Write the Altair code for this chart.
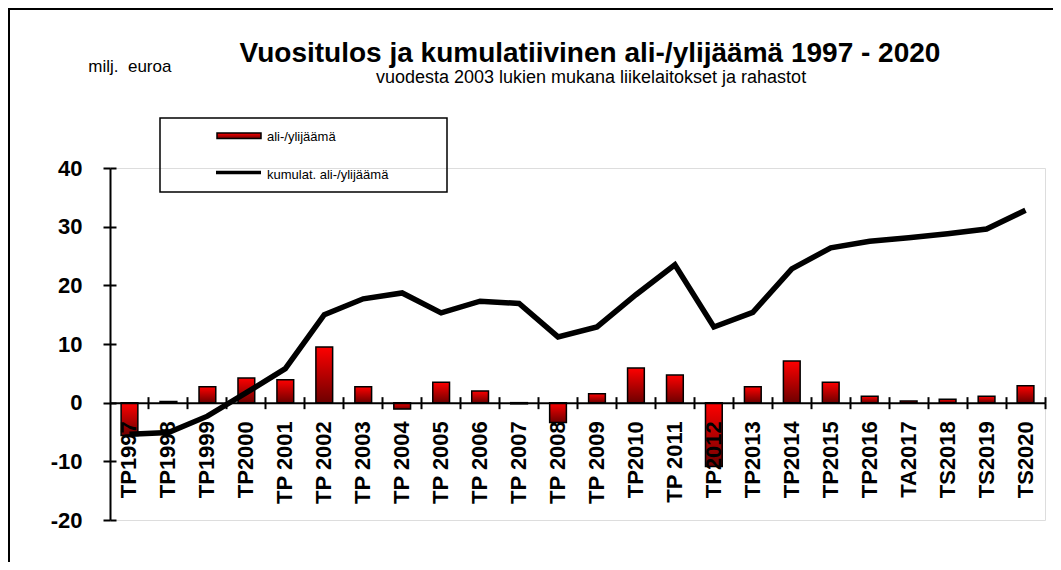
import altair as alt
import pandas as pd

labels = ["TP1997", "TP1998", "TP1999", "TP2000", "TP 2001", "TP 2002", "TP 2003",
          "TP 2004", "TP 2005", "TP 2006", "TP 2007", "TP 2008", "TP 2009", "TP2010",
          "TP 2011", "TP2012", "TP2013", "TP2014", "TP2015", "TP2016", "TA2017",
          "TS2018", "TS2019", "TS2020"]
annual = [-5.6, 0.2, 2.7, 4.2, 3.9, 9.5, 2.7, -1.1, 3.5, 2.0, -0.2, -3.4, 1.5, 5.9,
          4.7, -10.9, 2.7, 7.1, 3.5, 1.1, 0.3, 0.6, 1.1, 2.9]
cumulative = [-5.4, -5.1, -2.3, 1.7, 5.8, 15.0, 17.7, 18.7, 15.3, 17.3, 16.9, 11.2,
              12.9, 18.4, 23.5, 12.9, 15.4, 22.8, 26.4, 27.5, 28.1, 28.8, 29.6, 32.8]
y_ticks = [-20, -10, 0, 10, 20, 30, 40]

title_text = "Vuositulos ja kumulatiivinen ali-/ylijäämä 1997 - 2020"
subtitle_text = "vuodesta 2003 lukien mukana liikelaitokset ja rahastot"
unit_text = "milj.\u00a0 euroa"
legend_bar_text = "ali-/ylijäämä"
legend_line_text = "kumulat. ali-/ylijäämä"

W, H = 935, 352
FONT = "Liberation Sans"

df = pd.DataFrame({"label": labels, "annual": annual, "cumulative": cumulative})
one = pd.DataFrame({"d": [0]})

xscale = alt.Scale(domain=labels, paddingInner=0, paddingOuter=0)
yscale = alt.Scale(domain=[-20, 40], nice=False, zero=False)

gradient = alt.Gradient(
    gradient="linear",
    stops=[alt.GradientStop(color="#ff0000", offset=0),
           alt.GradientStop(color="#6e0000", offset=1)],
    x1=0, x2=0, y1=0, y2=1,
)

bars = alt.Chart(df).mark_bar(
    width=alt.RelativeBandSize(0.43), fill=gradient, stroke="black", strokeWidth=1.5
).encode(
    x=alt.X("label:N", sort=labels, scale=xscale, title=None,
            axis=alt.Axis(orient="bottom", offset=-H / 3, bandPosition=1,
                          tickSize=6, tickWidth=2, tickColor="black",
                          domainWidth=2, domainColor="black",
                          labelAngle=270, labelFont=FONT, labelFontSize=22,
                          labelFontWeight="bold", labelColor="black",
                          labelPadding=12, labelOverlap=False, zindex=1)),
    y=alt.Y("annual:Q", scale=yscale, title=None,
            axis=alt.Axis(orient="left", values=y_ticks, tickSize=7, tickWidth=2,
                          tickColor="black", domainWidth=2, domainColor="black",
                          labelExpr="'' + datum.value",
                          labelFont=FONT, labelFontSize=22, labelFontWeight="bold",
                          labelColor="black", labelPadding=21, grid=False, zindex=1)),
)

line = alt.Chart(df).mark_line(color="black", strokeWidth=5.5).encode(
    x=alt.X("label:N", sort=labels, scale=xscale, title=None,
            axis=alt.Axis(orient="top", offset=-2 * H / 3, bandPosition=1,
                          tickSize=6, tickWidth=2, tickColor="black",
                          domain=False, labels=False, zindex=1)),
    y=alt.Y("cumulative:Q", scale=yscale, title=None,
            axis=alt.Axis(orient="right", offset=-W, values=y_ticks, tickSize=6,
                          tickWidth=2, tickColor="black", domain=False,
                          labels=False, grid=False, zindex=1)),
)

legend_box = alt.Chart(one).mark_rect(fill="white", fillOpacity=0, stroke="black",
                                      strokeWidth=1.5).encode(
    x=alt.value(50), x2=alt.value(337), y=alt.value(-50), y2=alt.value(24))
legend_bar = alt.Chart(one).mark_rect(fill=gradient, stroke="black", strokeWidth=1.5).encode(
    x=alt.value(107), x2=alt.value(151), y=alt.value(-35), y2=alt.value(-29.5))
legend_line = alt.Chart(one).mark_rule(color="black", strokeWidth=3.5).encode(
    x=alt.value(106), x2=alt.value(151), y=alt.value(4.5))
legend_t1 = alt.Chart(one).mark_text(text=legend_bar_text, font=FONT, fontSize=13,
                                     align="left", baseline="middle", color="black").encode(
    x=alt.value(157), y=alt.value(-31.5))
legend_t2 = alt.Chart(one).mark_text(text=legend_line_text, font=FONT, fontSize=13,
                                     align="left", baseline="middle", color="black").encode(
    x=alt.value(157), y=alt.value(6.5))

title = alt.Chart(one).mark_text(text=title_text, font=FONT, fontSize=28, fontWeight="bold",
                                 align="center", baseline="alphabetic", color="black").encode(
    x=alt.value(480), y=alt.value(-106.3))
subtitle = alt.Chart(one).mark_text(text=subtitle_text, font=FONT, fontSize=18,
                                    align="center", baseline="alphabetic", color="black").encode(
    x=alt.value(481), y=alt.value(-84.7))
unit = alt.Chart(one).mark_text(text=unit_text, font=FONT, fontSize=17,
                                align="left", baseline="alphabetic", color="black").encode(
    x=alt.value(-21.7), y=alt.value(-95.7))

border_top = alt.Chart(one).mark_rule(color="black", strokeWidth=2).encode(
    x=alt.value(-102), x2=alt.value(W + 8), y=alt.value(-159))
border_left = alt.Chart(one).mark_rule(color="black", strokeWidth=2).encode(
    x=alt.value(-101), y=alt.value(-160), y2=alt.value(H + 42))

chart = alt.layer(
    border_top, border_left, title, subtitle, unit,
    legend_box, legend_bar, legend_line, legend_t1, legend_t2,
    bars, line,
).resolve_axis(x="independent", y="independent").properties(
    width=W, height=H,
    autosize=alt.AutoSizeParams(type="none"),
    padding={"left": 102, "top": 160, "right": 8, "bottom": 42},
).configure_view(stroke=None).configure(background="white")

chart.save("out.html", embed_options={"renderer": "svg", "actions": False})
